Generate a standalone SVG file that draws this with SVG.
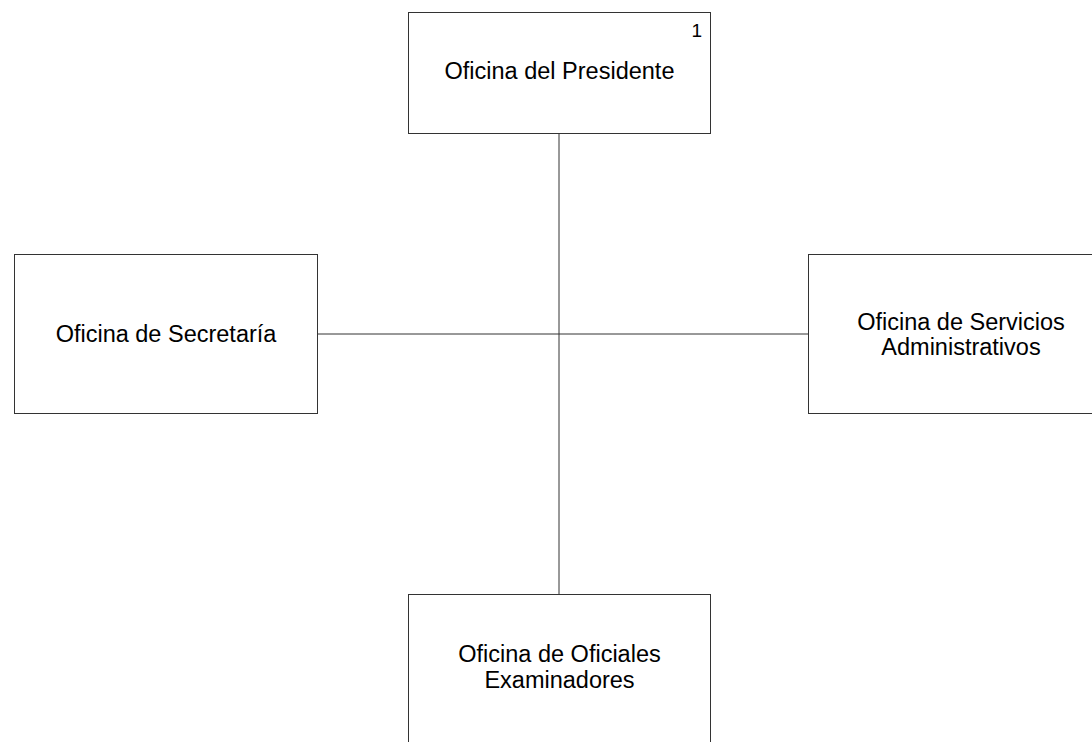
<svg xmlns="http://www.w3.org/2000/svg" width="1092" height="742" viewBox="0 0 1092 742">
<style>
.box{fill:#fff;stroke:#333;stroke-width:1}
.lbl{font-family:"Liberation Sans",Arial,sans-serif;font-size:23.5px;fill:#000;text-anchor:middle}
.num{font-family:"Liberation Sans",Arial,sans-serif;font-size:19px;fill:#000;text-anchor:end}
.con{stroke:#333;stroke-width:1;fill:none}
</style>
<rect width="1092" height="742" fill="#fff"/>
<g id="connectors">
<line class="con" x1="559" y1="133" x2="559" y2="595"/>
<line class="con" x1="317" y1="334" x2="808" y2="334"/>
</g>
<g id="presidente">
<rect class="box" x="408.5" y="12.5" width="302" height="121"/>
<text class="lbl" x="559.5" y="79">Oficina del Presidente</text>
<text class="num" x="702" y="37">1</text>
</g>
<g id="secretaria">
<rect class="box" x="14.5" y="254.5" width="303" height="159"/>
<text class="lbl" x="166" y="341.5">Oficina de Secretaría</text>
</g>
<g id="servicios">
<rect class="box" x="808.5" y="254.5" width="303" height="159"/>
<text class="lbl" x="961" y="329.5">Oficina de Servicios</text>
<text class="lbl" x="961" y="355">Administrativos</text>
</g>
<g id="oficiales">
<rect class="box" x="408.5" y="594.5" width="302" height="180"/>
<text class="lbl" x="559.5" y="662">Oficina de Oficiales</text>
<text class="lbl" x="559.5" y="688">Examinadores</text>
</g>
</svg>
